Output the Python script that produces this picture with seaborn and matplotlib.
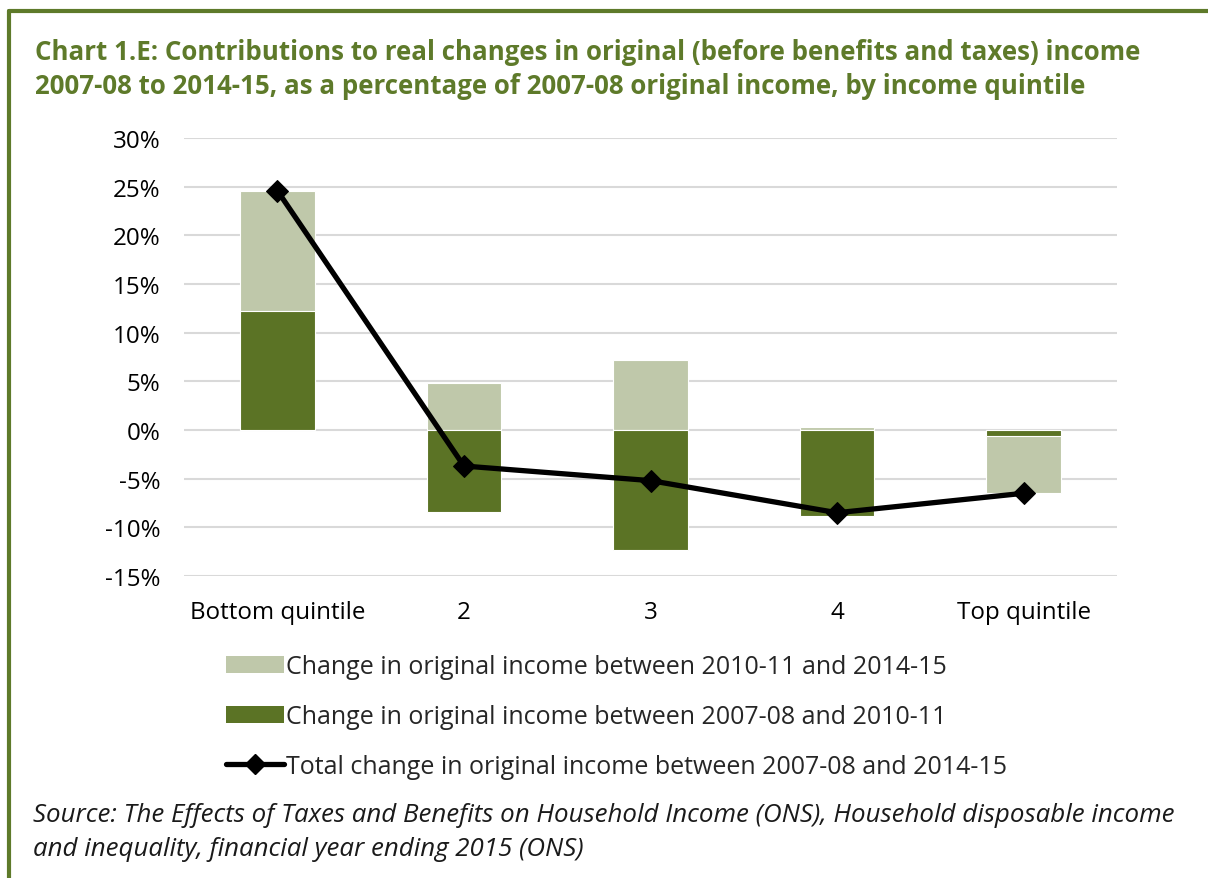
import numpy as np
import pandas as pd
import seaborn as sns
import matplotlib.pyplot as plt
from matplotlib.patches import Patch
from matplotlib.lines import Line2D

quintiles = ["Bottom quintile", "2", "3", "4", "Top quintile"]
change_2010_2015 = [12.4, 4.8, 7.2, 0.35, -5.9]    # light bars
change_2007_2010 = [12.2, -8.4, -12.3, -8.8, -0.6]  # dark bars
total_change = [24.6, -3.7, -5.2, -8.5, -6.5]
yticks = [-15, -10, -5, 0, 5, 10, 15, 20, 25, 30]

dark_green = "#5B7325"
light_green = "#BFC8AA"
title_green = "#5E7A2A"

sns.set_theme(style="white")
plt.rcParams["font.family"] = ["Open Sans", "DejaVu Sans"]

light = np.array(change_2010_2015)
dark = np.array(change_2007_2010)
# light sits on top of dark when both go the same way, so draw it to the stacked end
light_end = np.where(np.sign(light) == np.sign(dark), light + dark, light)

df = pd.DataFrame({"quintile": quintiles, "light_end": light_end, "dark": dark})

fig = plt.figure(figsize=(12.08, 8.79), dpi=100)
ax = fig.add_axes([184 / 1208, 1 - 577 / 879, (1117 - 184) / 1208, (577 - 139) / 879])

sns.barplot(data=df, x="quintile", y="light_end", color=light_green, saturation=1,
            width=0.4, edgecolor="white", linewidth=0.8, ax=ax, zorder=2)
sns.barplot(data=df, x="quintile", y="dark", color=dark_green, saturation=1,
            width=0.4, edgecolor="white", linewidth=0.8, ax=ax, zorder=3)
sns.lineplot(x=np.arange(len(quintiles)), y=total_change, color="black", lw=3.8,
             marker="D", markersize=11, markeredgecolor="black", ax=ax, zorder=4)

ax.set_xlim(-0.5, 4.5)
ax.set_ylim(-15, 30)
ax.set_yticks(yticks)
ax.set_yticklabels([f"{t}%" for t in yticks])
ax.set_xlabel("")
ax.set_ylabel("")
ax.grid(axis="y", color="#D9D9D9", lw=1.5, zorder=0)
ax.set_axisbelow(True)
sns.despine(ax=ax, left=True, bottom=True)
ax.tick_params(axis="both", length=0, labelsize=17.4, colors="black")
ax.tick_params(axis="y", pad=17)
ax.tick_params(axis="x", pad=17)

handles = [
    Patch(facecolor=light_green, edgecolor="none"),
    Patch(facecolor=dark_green, edgecolor="none"),
    Line2D([0], [0], color="black", lw=3.8, marker="D", markersize=10),
]
labels = [
    "Change in original income between 2010-11 and 2014-15",
    "Change in original income between 2007-08 and 2010-11",
    "Total change in original income between 2007-08 and 2014-15",
]
fig.legend(handles, labels, loc="upper left", bbox_to_anchor=(226 / 1208, 1 - 655 / 879),
           frameon=False, fontsize=18, handlelength=2.3, handleheight=0.65,
           handletextpad=0.1, labelspacing=1.0, borderpad=0, borderaxespad=0)

fig.text(35 / 1208, 1 - 53 / 879,
         "Chart 1.E: Contributions to real changes in original (before benefits and taxes) income",
         color=title_green, fontsize=18.6, fontweight="bold", va="center")
fig.text(35 / 1208, 1 - 87 / 879,
         "2007-08 to 2014-15, as a percentage of 2007-08 original income, by income quintile",
         color=title_green, fontsize=18.6, fontweight="bold", va="center")

fig.text(33 / 1208, 1 - 816 / 879,
         "Source: The Effects of Taxes and Benefits on Household Income (ONS), Household disposable income",
         fontsize=18.6, style="italic", va="center", color="#1a1a1a")
fig.text(33 / 1208, 1 - 850 / 879,
         "and inequality, financial year ending 2015 (ONS)",
         fontsize=18.6, style="italic", va="center", color="#1a1a1a")

# frame lines on top and left
fig.add_artist(Line2D([9 / 1208, 1], [1 - 12 / 879, 1 - 12 / 879], color=title_green, lw=3))
fig.add_artist(Line2D([9 / 1208, 9 / 1208], [0, 1 - 12 / 879], color=title_green, lw=3))

fig.savefig("out.png", dpi=100)
